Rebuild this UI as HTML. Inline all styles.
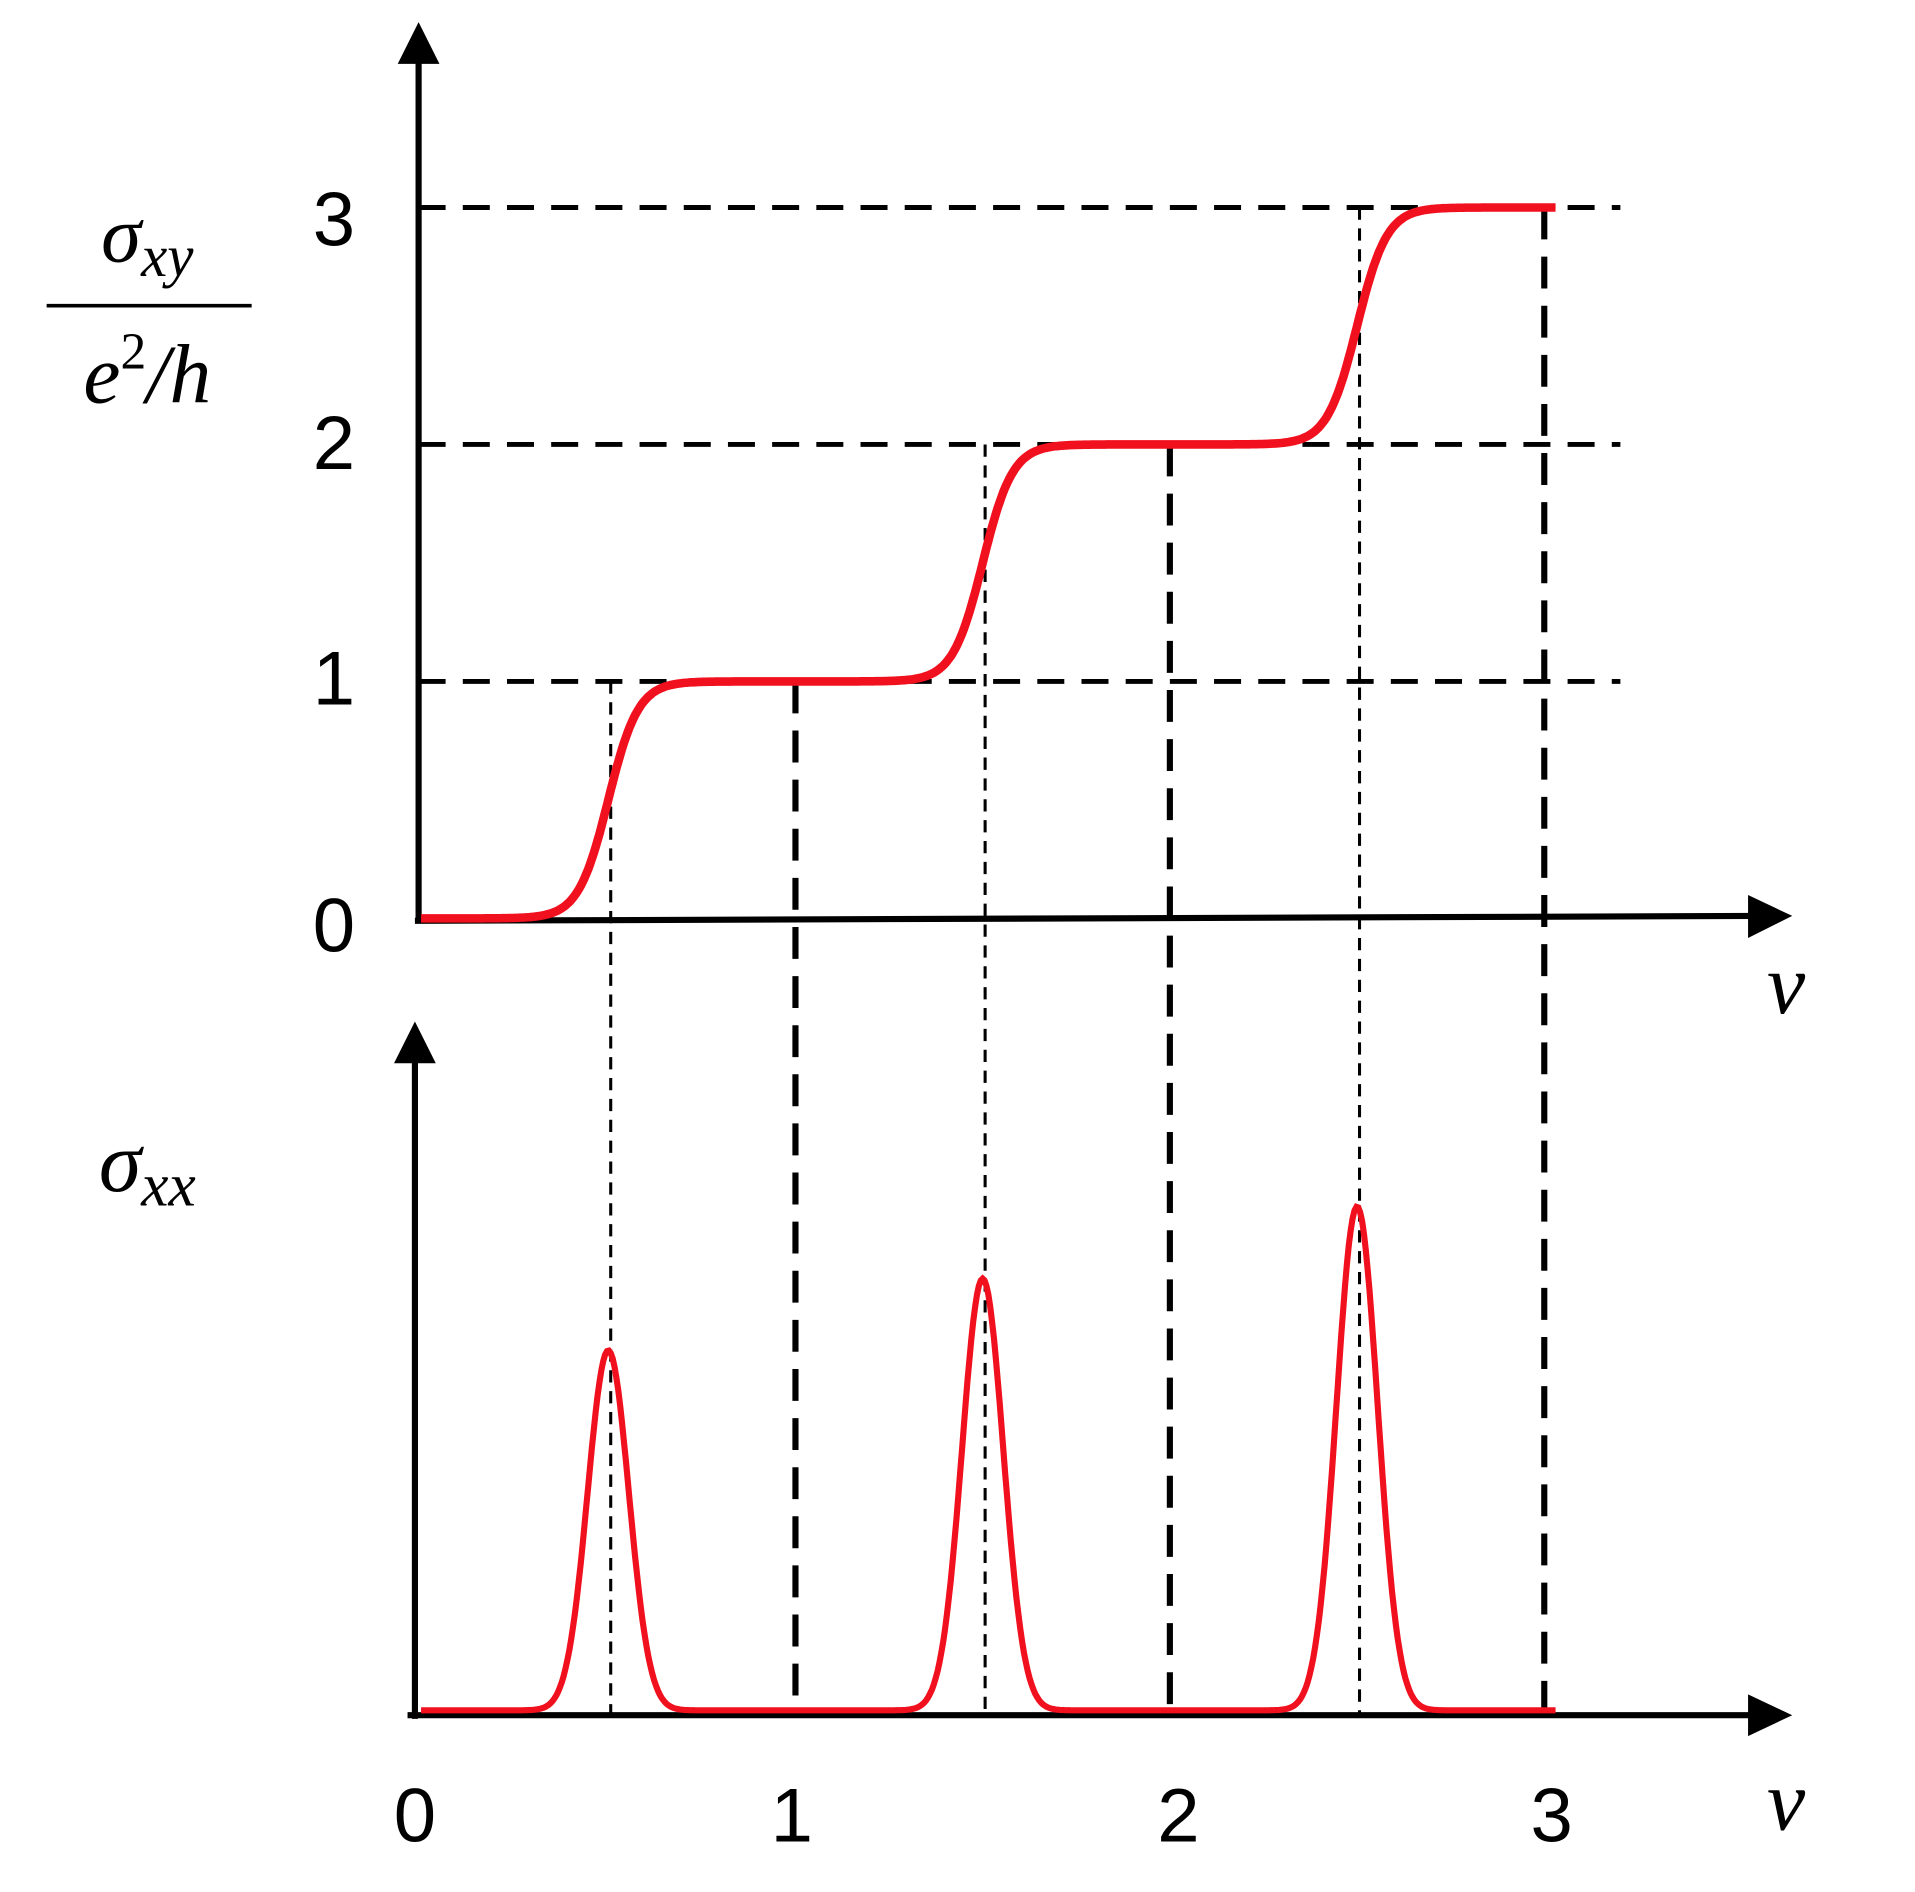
<!DOCTYPE html>
<html><head><meta charset="utf-8"><style>
html,body{margin:0;padding:0;background:#fff;}
svg{display:block;}
</style></head><body>
<svg id="chart" width="1915" height="1892" viewBox="0 0 1560 1541" preserveAspectRatio="none" xmlns="http://www.w3.org/2000/svg">
<g id="guides"></g>
<g id="axes">
 <line x1="341" y1="752" x2="341" y2="45" stroke="#000" stroke-width="5"/>
 <polygon points="341,18 324,52 358,52" fill="#000"/>
 <line x1="338" y1="750" x2="1430" y2="746" stroke="#000" stroke-width="5"/>
 <polygon points="1460,746 1424,729 1424,764" fill="#000"/>
 <line x1="338" y1="1400" x2="338" y2="860" stroke="#000" stroke-width="5"/>
 <polygon points="338,832 321,866 355,866" fill="#000"/>
 <line x1="332" y1="1397" x2="1430" y2="1397" stroke="#000" stroke-width="5"/>
 <polygon points="1460,1397 1424,1380 1424,1414" fill="#000"/>
</g>
<g id="curves"></g>
<g id="labels" font-family="Liberation Sans, sans-serif" font-size="62" fill="#000">
 <text x="272" y="775" text-anchor="middle">0</text>
 <text x="272" y="574" text-anchor="middle">1</text>
 <text x="272" y="382" text-anchor="middle">2</text>
 <text x="272" y="200" text-anchor="middle">3</text>
 <text x="338" y="1500" text-anchor="middle">0</text>
 <text x="645" y="1500" text-anchor="middle">1</text>
 <text x="960" y="1500" text-anchor="middle">2</text>
 <text x="1264" y="1500" text-anchor="middle">3</text>
 <g font-family="Liberation Serif, serif" font-style="italic">
  <text x="1455" y="825" font-size="70" text-anchor="middle">ν</text>
  <text x="1455" y="1490" font-size="70" text-anchor="middle">ν</text>
  <text x="120" y="213" font-size="66" text-anchor="middle">σ<tspan font-size="48" dy="12">xy</tspan></text>
  <line x1="38" y1="249" x2="205" y2="249" stroke="#000" stroke-width="3"/>
  <text x="120" y="328" font-size="68" text-anchor="middle">e<tspan font-size="42" dy="-28" font-style="normal">2</tspan><tspan dy="28">/h</tspan></text>
  <text x="120" y="970" font-size="70" text-anchor="middle">σ<tspan font-size="50" dy="12">xx</tspan></text>
 </g>
</g>
<script>
const plateaus = [0, 1, 2, 3];
const transitions = [0.5, 1.5, 2.5];
const peakHeights = [1.0, 1.2, 1.4];
const intTicks = [1, 2, 3];

const NS = 'http://www.w3.org/2000/svg';
const xs = v => 343 + 305 * v;
const yUp = v => 748 - 193 * v;
const yLow = v => 1393 - 293 * v;
const guides = document.getElementById('guides');
const curves = document.getElementById('curves');
function mk(tag, attrs, parent) {
  const el = document.createElementNS(NS, tag);
  for (const k in attrs) el.setAttribute(k, attrs[k]);
  parent.appendChild(el);
  return el;
}
plateaus.slice(1).forEach(p => {
  const el = mk('line', {x1: 341, x2: 1320, y1: yUp(p), y2: yUp(p), stroke: '#000', 'stroke-width': 4, 'stroke-dasharray': '22 14'}, guides);
  
  
});
transitions.forEach((t, i) => {
  const el = mk('line', {x1: xs(t) + 2, x2: xs(t) + 2, y1: yUp(plateaus[i + 1]), y2: 1397, stroke: '#000', 'stroke-width': 2.5, 'stroke-dasharray': '10 7'}, guides);
  
  
});
intTicks.forEach(n => {
  const el = mk('line', {x1: xs(n), x2: xs(n), y1: yUp(n), y2: 1397, stroke: '#000', 'stroke-width': 5, 'stroke-dasharray': '26 14'}, guides);
  
  
});
let dUp = '', dLow = '';
for (let i = 0; i <= 604; i++) {
  const v = i * 3.03 / 604;
  let s = plateaus[0], g = 0;
  transitions.forEach((t, k) => {
    s += (plateaus[k + 1] - plateaus[k]) * 0.5 * (1 + Math.tanh((v - t) / 0.08));
    g += peakHeights[k] * Math.exp(-Math.pow((v - t) / 0.055, 2) / 2);
  });
  dUp += (i ? 'L' : 'M') + xs(v).toFixed(1) + ',' + yUp(s).toFixed(1);
  dLow += (i ? 'L' : 'M') + xs(v).toFixed(1) + ',' + yLow(g).toFixed(1);
}
const c1 = mk('path', {d: dUp, fill: 'none', stroke: '#f0101e', 'stroke-width': 7}, curves);


const c2 = mk('path', {d: dLow, fill: 'none', stroke: '#f0101e', 'stroke-width': 5}, curves);


</script>
</svg>
</body></html>
